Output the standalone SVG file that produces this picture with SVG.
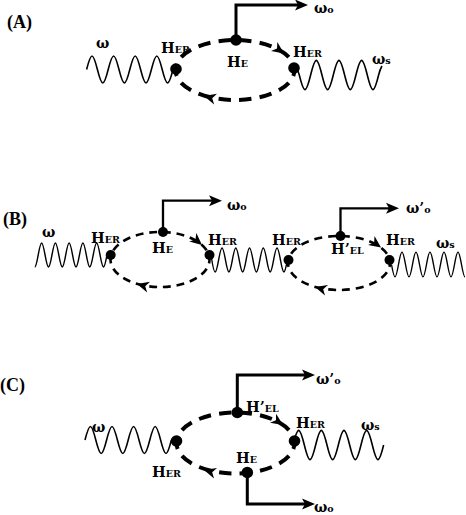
<svg xmlns="http://www.w3.org/2000/svg" width="466" height="515" viewBox="0 0 466 515">
<style>
.wave{fill:none;stroke:#000;stroke-width:1.6}
.waveB{fill:none;stroke:#000;stroke-width:1.4}
.loop{fill:none;stroke:#000;stroke-width:4;stroke-dasharray:12 8;stroke-dashoffset:6}
.loopB{fill:none;stroke:#000;stroke-width:2.6;stroke-dasharray:8 6;stroke-dashoffset:4}
.out{fill:none;stroke:#000;stroke-width:3}
.outB{fill:none;stroke:#000;stroke-width:2.3}
.dot{fill:#000}
text{font-family:"DejaVu Serif","Liberation Serif",serif;font-weight:bold;fill:#000}
.h{font-size:14.5px}
.s{font-size:9.5px}
.w{font-size:14px}
.p{font-family:"Liberation Serif",serif;font-size:18px}
</style>
<defs>
<path id="ah" d="M0,0 L-12,-5.5 L-8.5,0 L-12,5.5 Z"/>
<path id="tip" d="M0,0 L-13,-5.5 L-10,0 L-13,5.5 Z"/>
</defs>

<g id="panel-labels">
<text class="p" x="7" y="27.5">(A)</text>
<text class="p" x="3" y="225">(B)</text>
<text class="p" x="0" y="391">(C)</text>
</g>

<g id="connectors">
<!-- Panel A -->
<path class="wave" d="M86.6,69.5 c4.58,-18 6.22,-18 10.8,0 s6.22,18 10.8,0 s6.22,-18 10.8,0 s6.22,18 10.8,0 s6.22,-18 10.8,0 s6.22,18 10.8,0 s6.22,-18 10.8,0 s6.22,18 10.8,0"/>
<path class="wave" d="M294,64 Q297,67.5 299.3,75 c4.81,19.5 6.52,19.5 11.33,0 s6.52,-19.5 11.33,0 s6.52,19.5 11.33,0 s6.52,-19.5 11.33,0 s6.52,19.5 11.33,0 s6.52,-19.5 11.33,0 s6.52,19.5 11.33,0 q1.4,-5.5 3.3,-9"/>
<ellipse class="loop" cx="235" cy="70" rx="59.5" ry="30" pathLength="280"/>
<use href="#ah" transform="translate(284,53.5) rotate(35)"/>
<use href="#ah" transform="translate(204,96) rotate(195)"/>
<path class="out" d="M236,40 V5 H298"/>
<use href="#tip" transform="translate(308,5)"/>

<!-- Panel B -->
<path class="waveB" d="M34.8,267 C36,267 37.4,259.4 38.2,255 c2.92,-16 3.96,-16 6.875,0 s3.96,16 6.875,0 s3.96,-16 6.875,0 s3.96,16 6.875,0 s3.96,-16 6.875,0 s3.96,16 6.875,0 s3.96,-16 6.875,0 s3.96,16 6.875,0 s3.96,-16 6.875,0 s3.96,16 6.875,0"/>
<path class="waveB" d="M211.5,258 C213,268 214,272 215.2,272 C216.4,272 217.8,264.4 218.6,260 c2.92,-16 3.96,-16 6.875,0 s3.96,16 6.875,0 s3.96,-16 6.875,0 s3.96,16 6.875,0 s3.96,-16 6.875,0 s3.96,16 6.875,0 s3.96,-16 6.875,0 s3.96,16 6.875,0 s3.96,-16 6.875,0 s3.96,16 6.875,0"/>
<path class="waveB" d="M391.5,264.5 c2.97,16.5 4.03,16.5 7,0 s4.03,-16.5 7,0 s4.03,16.5 7,0 s4.03,-16.5 7,0 s4.03,16.5 7,0 s4.03,-16.5 7,0 s4.03,16.5 7,0 s4.03,-16.5 7,0 s4.03,16.5 7,0 s4.03,-16.5 7,0 c1.2,6.7 2.3,12.5 3.5,12.5"/>
<ellipse class="loopB" cx="160" cy="259.5" rx="49.5" ry="27.5" pathLength="252"/>
<ellipse class="loopB" cx="339" cy="263" rx="51" ry="27" pathLength="252"/>
<use href="#ah" transform="translate(202,245) rotate(40)"/>
<use href="#ah" transform="translate(137,284) rotate(195)"/>
<use href="#ah" transform="translate(381,247.5) rotate(36)"/>
<use href="#ah" transform="translate(315,287) rotate(196)"/>
<path class="outB" d="M163,232 V200.7 H212"/>
<use href="#tip" transform="translate(222,200.7)"/>
<path class="outB" d="M340.5,236 V208.3 H389"/>
<use href="#tip" transform="translate(399,208.3)"/>

<!-- Panel C -->
<path class="wave" d="M85,440 c4.58,-18 6.22,-18 10.8,0 s6.22,18 10.8,0 s6.22,-18 10.8,0 s6.22,18 10.8,0 s6.22,-18 10.8,0 s6.22,18 10.8,0 s6.22,-18 10.8,0 s6.22,18 10.8,0"/>
<path class="wave" d="M293,445 c4.81,-19.5 6.52,-19.5 11.33,0 s6.52,19.5 11.33,0 s6.52,-19.5 11.33,0 s6.52,19.5 11.33,0 s6.52,-19.5 11.33,0 s6.52,19.5 11.33,0 s6.52,-19.5 11.33,0 s6.52,19.5 11.33,0"/>
<ellipse class="loop" cx="235.5" cy="443" rx="59" ry="30.5" pathLength="280"/>
<use href="#ah" transform="translate(283,425) rotate(34)"/>
<use href="#ah" transform="translate(204,470) rotate(196)"/>
<path class="out" d="M237.3,412.5 V375 H305"/>
<use href="#tip" transform="translate(315,375)"/>
<path class="out" d="M247.3,472.5 V504 H305"/>
<use href="#tip" transform="translate(315,504)"/>
</g>

<!-- Panel A nodes -->
<g id="A-omega-in"><text class="w" x="96" y="48">ω</text></g>
<g id="A-HER-left"><circle class="dot" cx="176" cy="69" r="5.8"/><text x="161" y="53"><tspan class="h">H</tspan><tspan class="s">ER</tspan></text></g>
<g id="A-HE"><circle class="dot" cx="236" cy="40" r="5.8"/><text x="227" y="66.5"><tspan class="h">H</tspan><tspan class="s">E</tspan></text></g>
<g id="A-HER-right"><circle class="dot" cx="294" cy="68" r="5.8"/><text x="293" y="57"><tspan class="h">H</tspan><tspan class="s">ER</tspan></text></g>
<g id="A-omega-s"><text class="w" x="372" y="64">ω<tspan class="s">s</tspan></text></g>
<g id="A-omega-0"><text class="w" x="314" y="13">ω<tspan class="s">o</tspan></text></g>

<!-- Panel B nodes -->
<g id="B-omega-in"><text class="w" x="42" y="236.5">ω</text></g>
<g id="B-HER-1"><circle class="dot" cx="110.7" cy="255" r="5"/><text x="91" y="243"><tspan class="h">H</tspan><tspan class="s">ER</tspan></text></g>
<g id="B-HE"><circle class="dot" cx="163" cy="232" r="5"/><text x="152" y="253"><tspan class="h">H</tspan><tspan class="s">E</tspan></text></g>
<g id="B-HER-2"><circle class="dot" cx="209.5" cy="255" r="5"/><text x="208" y="245"><tspan class="h">H</tspan><tspan class="s">ER</tspan></text></g>
<g id="B-HER-3"><circle class="dot" cx="288.5" cy="260" r="5"/><text x="272" y="245"><tspan class="h">H</tspan><tspan class="s">ER</tspan></text></g>
<g id="B-HEL"><circle class="dot" cx="340.5" cy="236" r="5"/><text x="331" y="254"><tspan class="h">H’</tspan><tspan class="s">EL</tspan></text></g>
<g id="B-HER-4"><circle class="dot" cx="389.5" cy="260" r="5"/><text x="386" y="245"><tspan class="h">H</tspan><tspan class="s">ER</tspan></text></g>
<g id="B-omega-s"><text class="w" x="436" y="248">ω<tspan class="s">s</tspan></text></g>
<g id="B-omega-0"><text class="w" x="227" y="210">ω<tspan class="s">o</tspan></text></g>
<g id="B-omega-0p"><text class="w" x="406" y="213">ω’<tspan class="s">o</tspan></text></g>

<!-- Panel C nodes -->
<g id="C-omega-in"><text class="w" x="92" y="432">ω</text></g>
<g id="C-HER-left"><circle class="dot" cx="176.5" cy="441" r="5.8"/><text x="152" y="476.5"><tspan class="h">H</tspan><tspan class="s">ER</tspan></text></g>
<g id="C-HEL"><circle class="dot" cx="237.3" cy="412.5" r="5.8"/><text x="246" y="411.5"><tspan class="h">H’</tspan><tspan class="s">EL</tspan></text></g>
<g id="C-HER-right"><circle class="dot" cx="294.5" cy="441" r="5.8"/><text x="296" y="428"><tspan class="h">H</tspan><tspan class="s">ER</tspan></text></g>
<g id="C-HE"><circle class="dot" cx="247.3" cy="472.5" r="5.8"/><text x="236" y="463"><tspan class="h">H</tspan><tspan class="s">E</tspan></text></g>
<g id="C-omega-s"><text class="w" x="361" y="430">ω<tspan class="s">s</tspan></text></g>
<g id="C-omega-0p"><text class="w" x="316" y="384">ω’<tspan class="s">o</tspan></text></g>
<g id="C-omega-0"><text class="w" x="314" y="511.5">ω<tspan class="s">o</tspan></text></g>
</svg>
